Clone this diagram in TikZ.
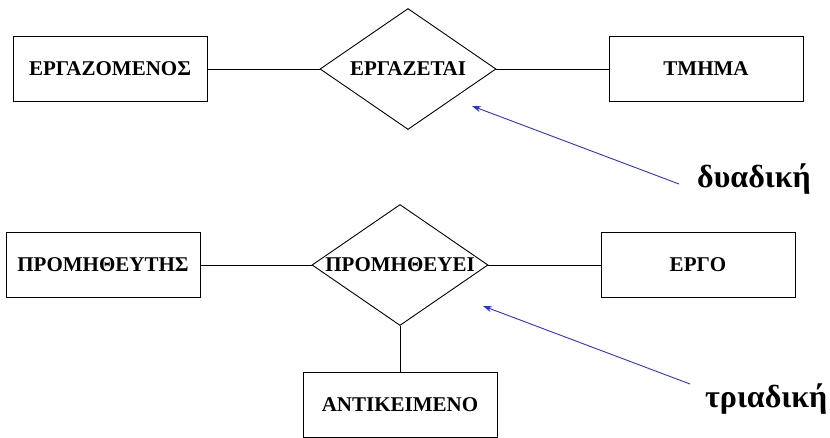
\documentclass[tikz,border=0pt]{standalone}
\usepackage{fontspec}
\setmainfont{Liberation Serif}
\usetikzlibrary{shapes.geometric,arrows.meta}
\definecolor{arrowblue}{RGB}{50,50,210}
\tikzset{
  entity/.style={draw, line width=0.9pt, minimum width=194pt, minimum height=65pt, inner sep=0pt, font=\fontsize{21}{24}\selectfont\bfseries},
  relation/.style={draw, diamond, line width=0.9pt, minimum width=176pt, minimum height=121pt, inner sep=0pt, font=\fontsize{21}{24}\selectfont\bfseries},
  link/.style={line width=0.9pt},
  pointer/.style={draw=arrowblue, line width=0.9pt, -{Stealth[length=9pt,width=6pt]}},
  kind/.style={anchor=base west, inner sep=0pt, font=\fontsize{32}{36}\selectfont\bfseries}
}
\begin{document}
\begin{tikzpicture}[x=1pt,y=-1pt]
\useasboundingbox[fill=white] (0,0) rectangle (830,438);
% top row
\node[entity] (emp) at (110,69) {ΕΡΓΑΖΟΜΕΝΟΣ};
\node[relation] (works) at (408,69) {\makebox[0pt]{ΕΡΓΑΖΕΤΑΙ}};
\node[entity] (dept) at (706,69) {ΤΜΗΜΑ};
\draw[link] (emp.east) -- (works.west);
\draw[link] (works.east) -- (dept.west);
% bottom row
\node[entity] (sup) at (103,265) {ΠΡΟΜΗΘΕΥΤΗΣ};
\node[relation] (supplies) at (400,265) {\makebox[0pt]{ΠΡΟΜΗΘΕΥΕΙ}};
\node[entity] (proj) at (698,265) {ΕΡΓΟ};
\node[entity] (part) at (400,405) {ΑΝΤΙΚΕΙΜΕΝΟ};
\draw[link] (sup.east) -- (supplies.west);
\draw[link] (supplies.east) -- (proj.west);
\draw[link] (supplies.south) -- (part.north);
% labels
\node[kind] (bin) at (697,188) {δυαδική};
\node[kind] (ter) at (705,407) {τριαδική};
\coordinate (binTail) at (679,184);
\coordinate (binHead) at (472,106);
\coordinate (terTail) at (690,384);
\coordinate (terHead) at (483,306);
\draw[pointer] (binTail) -- (binHead);
\draw[pointer] (terTail) -- (terHead);
\end{tikzpicture}
\end{document}
